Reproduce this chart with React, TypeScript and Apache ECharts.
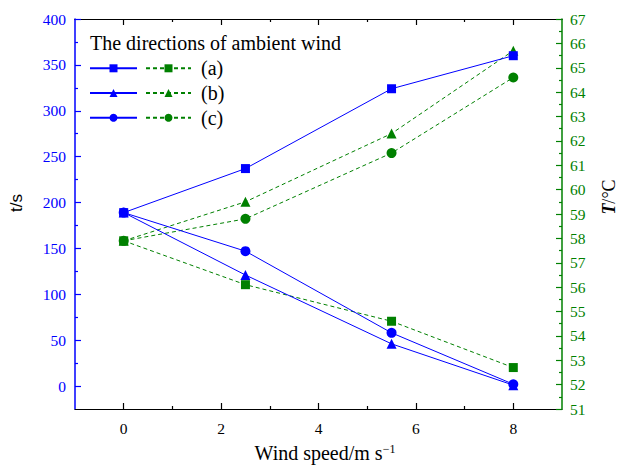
import React, { useEffect, useRef } from "react";
import * as echarts from "echarts";

const windSpeed = [0, 2.5, 5.5, 8];
const timeA = [189, 237, 324, 360];
const timeB = [189, 121, 46, 1];
const timeC = [189, 147, 58, 2];
const tempA = [57.9, 56.1, 54.6, 52.7];
const tempB = [57.9, 59.5, 62.3, 65.7];
const tempC = [57.9, 58.8, 61.5, 64.6];

const xMajor = [0, 2, 4, 6, 8];
const xMinor = [1, 3, 5, 7];
const tMajor = [0, 50, 100, 150, 200, 250, 300, 350, 400];
const tMinor = [25, 75, 125, 175, 225, 275, 325, 375];

const BLUE = "#0000ff";
const GREEN = "#008000";
const SERIF = "'Liberation Serif', 'Times New Roman', serif";

const pairs = (ys: number[]) => windSpeed.map((x, i) => [x, ys[i]]);

export default function App() {
  const ref = useRef<HTMLDivElement>(null);
  useEffect(() => {
    document.body.style.margin = "0";
    if (!ref.current) return;
    const chart = echarts.init(ref.current, undefined, { renderer: "svg" });
    const blueSeries = (name: string, sym: string, ys: number[], size: number) => ({
      name,
      type: "line",
      xAxisIndex: 0,
      yAxisIndex: 0,
      data: pairs(ys),
      symbol: sym,
      symbolSize: size,
      itemStyle: { color: BLUE },
      lineStyle: { color: BLUE, width: 1 },
      z: 3,
    });
    const greenSeries = (name: string, sym: string, ys: number[], size: number) => ({
      name,
      type: "line",
      xAxisIndex: 0,
      yAxisIndex: 2,
      data: pairs(ys),
      symbol: sym,
      symbolSize: size,
      itemStyle: { color: GREEN },
      lineStyle: { color: GREEN, width: 1, type: [4, 3] },
      z: 2,
    });
    const xBase = {
      type: "value",
      min: -1,
      max: 9,
      splitLine: { show: false },
    };
    const tickLabel = (color: string) => ({
      formatter: "{v|{value}}",
      rich: { v: { fontFamily: SERIF, fontSize: 15.5, color } },
      fontFamily: SERIF,
      fontSize: 15.5,
      color,
    });
    const legendText = { fontFamily: SERIF, fontSize: 20, color: "#000", padding: [0, 0, 0, 5] };
    const option: any = {
      animation: false,
      backgroundColor: "#ffffff",
      textStyle: { fontFamily: SERIF },
      title: {
        text: "The directions of ambient wind",
        left: 90,
        top: 33,
        padding: 0,
        textStyle: { fontFamily: SERIF, fontSize: 20, fontWeight: "normal", color: "#000" },
      },
      legend: [
        {
          data: ["a-t", "b-t", "c-t"],
          orient: "vertical",
          left: 89,
          top: 58.3,
          padding: 0,
          itemWidth: 47,
          itemHeight: 10,
          itemGap: 4.7,
          formatter: () => " ",
          selectedMode: false,
          textStyle: legendText,
        },
        {
          data: ["(a)", "(b)", "(c)"],
          orient: "vertical",
          left: 145,
          top: 58.3,
          padding: 0,
          itemWidth: 45,
          itemHeight: 10,
          itemGap: 4.7,
          selectedMode: false,
          textStyle: legendText,
        },
      ],
      grid: { left: 75, right: 57, top: 19, bottom: 56, containLabel: false, outerBoundsMode: "none" },
      xAxis: [
        {
          ...xBase,
          position: "bottom",
          name: "{a|Wind speed/m s}{s|−1}",
          nameLocation: "middle",
          nameGap: 34,
          nameTextStyle: {
            padding: [0, 0, 0, 13],
            rich: {
              a: { fontFamily: SERIF, fontSize: 20, color: "#000" },
              s: { fontFamily: SERIF, fontSize: 12, color: "#000", verticalAlign: "top", padding: [0, 0, 6, 0] },
            },
          },
          axisLine: { show: true, onZero: false, lineStyle: { color: "#000", width: 1.2 } },
          axisTick: { show: true, inside: true, length: 6, customValues: xMajor, lineStyle: { color: "#000", width: 1.2 } },
          axisLabel: { show: true, customValues: xMajor, margin: 11, ...tickLabel("#000") },
        },
        {
          ...xBase,
          position: "bottom",
          axisLine: { show: false, onZero: false },
          axisTick: { show: true, inside: true, length: 3, customValues: xMinor, lineStyle: { color: "#000", width: 1.2 } },
          axisLabel: { show: false },
        },
        {
          ...xBase,
          position: "top",
          axisLine: { show: true, onZero: false, lineStyle: { color: "#000", width: 1.2 } },
          axisTick: { show: true, inside: true, length: 6, customValues: xMajor, lineStyle: { color: "#000", width: 1.2 } },
          axisLabel: { show: false },
        },
        {
          ...xBase,
          position: "top",
          axisLine: { show: false, onZero: false },
          axisTick: { show: true, inside: true, length: 3, customValues: xMinor, lineStyle: { color: "#000", width: 1.2 } },
          axisLabel: { show: false },
        },
      ],
      yAxis: [
        {
          type: "value",
          position: "left",
          min: -25,
          max: 400,
          splitLine: { show: false },
          name: "t/s",
          nameLocation: "middle",
          nameGap: 50,
          nameRotate: 90,
          nameTextStyle: { fontFamily: "'Liberation Sans', Arial, sans-serif", fontSize: 17, color: "#000", padding: [0, 0, 0, 22] },
          axisLine: { show: true, onZero: false, lineStyle: { color: BLUE, width: 1.5 } },
          axisTick: { show: true, inside: true, length: 6, customValues: tMajor, lineStyle: { color: BLUE, width: 1.2 } },
          axisLabel: { show: true, customValues: tMajor, margin: 9, ...tickLabel(BLUE) },
        },
        {
          type: "value",
          position: "left",
          min: -25,
          max: 400,
          splitLine: { show: false },
          axisLine: { show: false, onZero: false },
          axisTick: { show: true, inside: true, length: 3, customValues: tMinor, lineStyle: { color: BLUE, width: 1.2 } },
          axisLabel: { show: false },
        },
        {
          type: "value",
          position: "right",
          min: 51,
          max: 67,
          interval: 1,
          splitLine: { show: false },
          name: "{i|T}{n|/°C}",
          nameLocation: "middle",
          nameGap: 38,
          nameRotate: 90,
          nameTextStyle: {
            padding: [0, 0, 0, 34],
            rich: {
              i: { fontFamily: SERIF, fontSize: 18, fontStyle: "italic", fontWeight: "bold", color: "#000" },
              n: { fontFamily: SERIF, fontSize: 18, color: "#000" },
            },
          },
          axisLine: { show: true, onZero: false, lineStyle: { color: GREEN, width: 1.5 } },
          axisTick: { show: true, inside: true, length: 6, lineStyle: { color: GREEN, width: 1.2 } },
          minorTick: { show: true, splitNumber: 2, length: 3, lineStyle: { color: GREEN, width: 1.2 } },
          axisLabel: { show: true, margin: 8, ...tickLabel(GREEN) },
        },
      ],
      series: [
        blueSeries("a-t", "rect", timeA, 9),
        blueSeries("b-t", "triangle", timeB, 10),
        blueSeries("c-t", "circle", timeC, 10),
        greenSeries("(a)", "rect", tempA, 9),
        greenSeries("(b)", "triangle", tempB, 10),
        greenSeries("(c)", "circle", tempC, 10),
      ],
    };
    chart.setOption(option);
    return () => chart.dispose();
  }, []);
  return <div ref={ref} style={{ width: 619, height: 465 }} />;
}
